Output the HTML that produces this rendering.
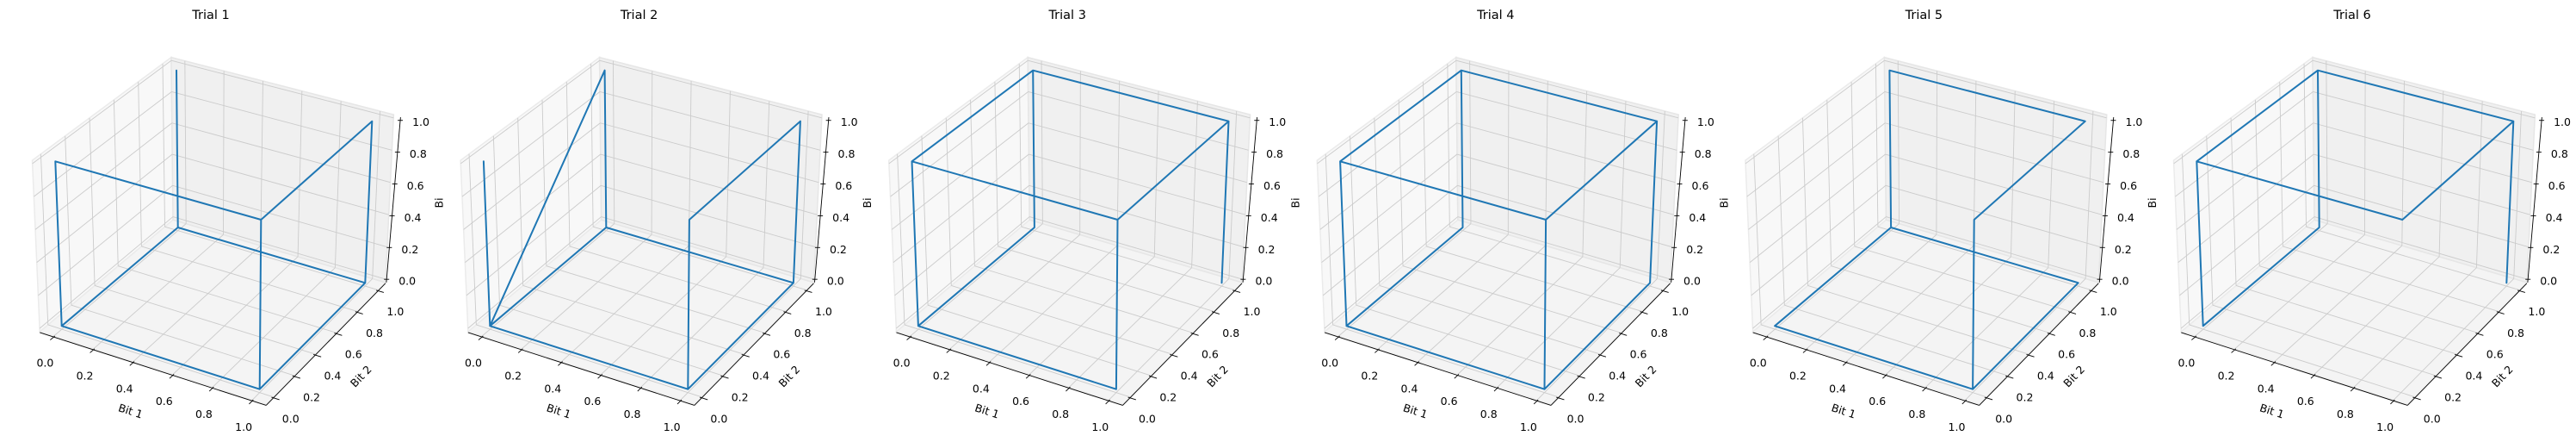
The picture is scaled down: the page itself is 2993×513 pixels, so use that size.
<!DOCTYPE html>
<html><head><meta charset="utf-8"><title>Trials 3D</title>
<style>
html,body{margin:0;padding:0;background:#fff;width:2993px;height:513px;overflow:hidden}
svg{display:block;font-family:"DejaVu Sans","Liberation Sans",sans-serif}
</style></head>
<body>
<svg id="chart" width="2993" height="513" viewBox="0 0 2993 513" xmlns="http://www.w3.org/2000/svg">
<rect x="0" y="0" width="2993" height="513" fill="#ffffff"/>
<defs id="defs"></defs>
</svg>
<script>
// ---- data ----
const trialTitles = ["Trial 1","Trial 2","Trial 3","Trial 4","Trial 5","Trial 6"];
const tickValues = [0, 0.2, 0.4, 0.6, 0.8, 1.0];
const tickLabels = ["0.0","0.2","0.4","0.6","0.8","1.0"];
const axisLabels = ["Bit 1","Bit 2","Bit 3"];
const trial1Bit1 = [0,0,1,1,1,0,0,0,0,1,1,1,1];
const trial1Bit2 = [1,1,1,1,0,0,0,1,0,0,1,0,0];
const trial1Bit3 = [1,0,0,1,1,1,0,0,0,0,0,0,1];
const trial2Bit1 = [0,0,0,0,0,1,1,1,1,0,1,1];
const trial2Bit2 = [0,0,1,1,0,0,0,1,1,1,1,0];
const trial2Bit3 = [1,0,1,0,0,0,1,1,0,0,0,0];
const trial3Bit1 = [0,0,0,0,0,1,1,1,1,0,0,1,1];
const trial3Bit2 = [1,1,0,0,1,1,1,1,0,0,0,0,0];
const trial3Bit3 = [1,0,0,1,1,1,0,1,1,1,0,0,1];
const trial4Bit1 = [0,0,0,1,1,1,0,0,0,0,1,1,1,1];
const trial4Bit2 = [1,1,0,0,1,1,1,0,0,0,0,0,0,1];
const trial4Bit3 = [1,0,0,0,0,1,1,1,0,1,1,0,1,1];
const trial5Bit1 = [0,0,1,1,1,1,0,0,1];
const trial5Bit2 = [1,1,1,0,0,1,1,0,0];
const trial5Bit3 = [0,1,1,1,0,0,0,0,0];
const trial6Bit1 = [1,1,1,0,0,0,0,1,0,0];
const trial6Bit2 = [1,1,0,0,0,1,1,1,1,0];
const trial6Bit3 = [0,1,1,1,0,0,1,1,1,1];
const trialsX = [trial1Bit1,trial2Bit1,trial3Bit1,trial4Bit1,trial5Bit1,trial6Bit1];
const trialsY = [trial1Bit2,trial2Bit2,trial3Bit2,trial4Bit2,trial5Bit2,trial6Bit2];
const trialsZ = [trial1Bit3,trial2Bit3,trial3Bit3,trial4Bit3,trial5Bit3,trial6Bit3];

// ---- projection (measured cube corners of unit data cube, first subplot) ----
const C = {
  "000":[71.7,378.3],"100":[301.7,451.7],"110":[424.3,328.3],"010":[206.7,264],
  "001":[64.3,187.3],"101":[303.3,255],"111":[432.3,140.7],"011":[205,81.7]
};
const SP = 497.6;
const XMIN=-0.07, XMAX=1.07, YMIN=-0.07, YMAX=1.07, ZMIN=-0.02, ZMAX=1.02;
function lerp(a,b,t){return [a[0]+(b[0]-a[0])*t, a[1]+(b[1]-a[1])*t];}
function proj(x,y,z,off){
  const a=lerp(C["000"],C["100"],x), b=lerp(C["010"],C["110"],x);
  const c=lerp(C["001"],C["101"],x), d=lerp(C["011"],C["111"],x);
  const lo=lerp(a,b,y), hi=lerp(c,d,y);
  const p=lerp(lo,hi,z);
  return [p[0]+off, p[1]];
}
const NS="http://www.w3.org/2000/svg";
const svg=document.getElementById("chart");
const defs=document.getElementById("defs");
function mk(tag,attrs,parent){
  const e=document.createElementNS(NS,tag);
  for(const k in attrs) e.setAttribute(k,attrs[k]);
  parent.appendChild(e); return e;
}
function poly(pts){return pts.map(p=>p[0].toFixed(2)+","+p[1].toFixed(2)).join(" ");}

for(let i=0;i<6;i++){
  const off=i*SP;
  const P=(x,y,z)=>proj(x,y,z,off);
  const g=mk("g",{},svg);
  
  

  // panes
  const floor=mk("polygon",{points:poly([P(XMIN,YMIN,ZMIN),P(XMAX,YMIN,ZMIN),P(XMAX,YMAX,ZMIN),P(XMIN,YMAX,ZMIN)]),fill:"#f4f4f4",stroke:"#ebebeb","stroke-width":1.5},g);
  
  
  const left=mk("polygon",{points:poly([P(XMIN,YMIN,ZMIN),P(XMIN,YMAX,ZMIN),P(XMIN,YMAX,ZMAX),P(XMIN,YMIN,ZMAX)]),fill:"#f8f8f8",stroke:"#ebebeb","stroke-width":1.5},g);
  
  
  const back=mk("polygon",{points:poly([P(XMIN,YMAX,ZMIN),P(XMAX,YMAX,ZMIN),P(XMAX,YMAX,ZMAX),P(XMIN,YMAX,ZMAX)]),fill:"#f0f0f0",stroke:"#e6e6e6","stroke-width":1.5},g);
  
  

  // gridlines
  const grid=mk("g",{stroke:"#cbcbcb","stroke-width":0.9,fill:"none"},g);
  
  
  for(const t of tickValues){
    const segs=[
      [P(t,YMIN,ZMIN),P(t,YMAX,ZMIN)],[P(XMIN,t,ZMIN),P(XMAX,t,ZMIN)],
      [P(XMIN,t,ZMIN),P(XMIN,t,ZMAX)],[P(XMIN,YMIN,t),P(XMIN,YMAX,t)],
      [P(t,YMAX,ZMIN),P(t,YMAX,ZMAX)],[P(XMIN,YMAX,t),P(XMAX,YMAX,t)]
    ];
    for(const s of segs){
      const l=mk("line",{x1:s[0][0],y1:s[0][1],x2:s[1][0],y2:s[1][1]},grid);
      
      
    }
  }

  // axis lines
  const ax=mk("g",{stroke:"#000","stroke-width":0.9,fill:"none"},g);
  
  
  const xa0=P(XMIN,YMIN,ZMIN), xa1=P(XMAX,YMIN,ZMIN), ya1=P(XMAX,YMAX,ZMIN);
  const za0=[ya1[0]+1,ya1[1]], za1=P(XMAX,YMAX,ZMAX);
  const xl=mk("line",{x1:xa0[0],y1:xa0[1]+1,x2:xa1[0],y2:xa1[1]+1},ax);
  
  
  const yl=mk("line",{x1:xa1[0],y1:xa1[1]+1,x2:ya1[0],y2:ya1[1]+1},ax);
  
  
  const zl=mk("line",{x1:za0[0],y1:za0[1],x2:za1[0]+8,y2:za1[1]+3},ax);
  
  

  const tg=mk("g",{fill:"#000","font-size":"12.5px","text-anchor":"middle","dominant-baseline":"central"},g);
  
  
  tickValues.forEach((t,k)=>{
    const a=P(t,YMIN-0.03,ZMIN), b=P(t,YMIN+0.01,ZMIN);
    const xt=mk("line",{x1:a[0],y1:a[1]+1,x2:b[0],y2:b[1]+1},ax);
    
    
    const p=P(t,YMIN,ZMIN);
    const tx=mk("text",{x:p[0]-10,y:p[1]+31},tg); tx.textContent=tickLabels[k];
    
    
    const c=P(XMAX+0.03,t,ZMIN), d=P(XMAX-0.01,t,ZMIN);
    const yt=mk("line",{x1:c[0],y1:c[1]+1,x2:d[0],y2:d[1]+1},ax);
    
    
    const q=P(XMAX,t,ZMIN);
    const ty=mk("text",{x:q[0]+20,y:q[1]+25},tg); ty.textContent=tickLabels[k];
    
    
    const zy=za0[1]+(za1[1]+3-za0[1])*((t-ZMIN)/(ZMAX-ZMIN));
    const zx=za0[0]+(za1[0]+8-za0[0])*((t-ZMIN)/(ZMAX-ZMIN));
    const zt=mk("line",{x1:zx-3,y1:zy,x2:zx+3,y2:zy},ax);
    
    
    const tz=mk("text",{x:zx+24,y:zy+2},tg); tz.textContent=tickLabels[k];
    
    
  });

  // axis labels
  const lx=mk("text",{x:off+151.7,y:477,"font-size":"12.5px","text-anchor":"middle","dominant-baseline":"central",transform:"rotate(18 "+(off+151.7)+" 477)"},g);
  lx.textContent=axisLabels[0];
  
  
  const ly=mk("text",{x:off+419.3,y:436.7,"font-size":"12.5px","text-anchor":"middle","dominant-baseline":"central",transform:"rotate(-46 "+(off+419.3)+" 436.7)"},g);
  ly.textContent=axisLabels[1];
  
  
  const cp=mk("clipPath",{id:"zclip"+i},defs);
  mk("rect",{x:off+440,y:150,width:68,height:150},cp);
  const lz=mk("text",{x:off+510,y:227,"font-size":"12.5px","text-anchor":"middle","dominant-baseline":"central","clip-path":"url(#zclip"+i+")",transform:"rotate(-90 "+(off+510)+" 227)"},g);
  lz.textContent=axisLabels[2];
  
  

  // data path
  const xs=trialsX[i], ys=trialsY[i], zs=trialsZ[i];
  const pts=xs.map((v,k)=>P(v,ys[k],zs[k]));
  const line=mk("polyline",{points:poly(pts),fill:"none",stroke:"#1f77b4","stroke-width":2,"stroke-linejoin":"round","stroke-linecap":"round"},g);
  
  

  // title
  const tt=mk("text",{x:off+245,y:18,"font-size":"14.5px","text-anchor":"middle","dominant-baseline":"central",fill:"#000"},g);
  tt.textContent=trialTitles[i];
  
  
}
</script>
</body></html>
